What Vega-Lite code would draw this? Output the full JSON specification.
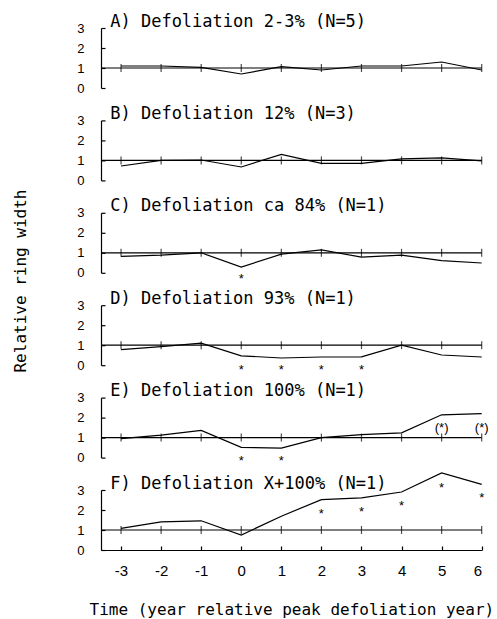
{
  "$schema": "https://vega.github.io/schema/vega-lite/v6.json",
  "padding": {"left": 12, "top": 12, "right": 5, "bottom": 5},
  "bounds": "flush",
  "data": {"values": [
    {"kind": "title", "panel": "A", "label": "A) Defoliation 2-3% (N=5)"},
    {"kind": "title", "panel": "B", "label": "B) Defoliation 12% (N=3)"},
    {"kind": "title", "panel": "C", "label": "C) Defoliation ca 84% (N=1)"},
    {"kind": "title", "panel": "D", "label": "D) Defoliation 93% (N=1)"},
    {"kind": "title", "panel": "E", "label": "E) Defoliation 100% (N=1)"},
    {"kind": "title", "panel": "F", "label": "F) Defoliation X+100% (N=1)"},
    {"kind": "series", "panel": "A", "x": -3, "y": 1.1},
    {"kind": "series", "panel": "A", "x": -2, "y": 1.1},
    {"kind": "series", "panel": "A", "x": -1, "y": 1.03},
    {"kind": "series", "panel": "A", "x": 0, "y": 0.7},
    {"kind": "series", "panel": "A", "x": 1, "y": 1.07},
    {"kind": "series", "panel": "A", "x": 2, "y": 0.9},
    {"kind": "series", "panel": "A", "x": 3, "y": 1.1},
    {"kind": "series", "panel": "A", "x": 4, "y": 1.1},
    {"kind": "series", "panel": "A", "x": 5, "y": 1.3},
    {"kind": "series", "panel": "A", "x": 6, "y": 0.9},
    {"kind": "series", "panel": "B", "x": -3, "y": 0.72},
    {"kind": "series", "panel": "B", "x": -2, "y": 1.0},
    {"kind": "series", "panel": "B", "x": -1, "y": 1.02},
    {"kind": "series", "panel": "B", "x": 0, "y": 0.67},
    {"kind": "series", "panel": "B", "x": 1, "y": 1.3},
    {"kind": "series", "panel": "B", "x": 2, "y": 0.85},
    {"kind": "series", "panel": "B", "x": 3, "y": 0.85},
    {"kind": "series", "panel": "B", "x": 4, "y": 1.08},
    {"kind": "series", "panel": "B", "x": 5, "y": 1.13},
    {"kind": "series", "panel": "B", "x": 6, "y": 0.98},
    {"kind": "series", "panel": "C", "x": -3, "y": 0.82},
    {"kind": "series", "panel": "C", "x": -2, "y": 0.88},
    {"kind": "series", "panel": "C", "x": -1, "y": 1.0},
    {"kind": "series", "panel": "C", "x": 0, "y": 0.29},
    {"kind": "series", "panel": "C", "x": 1, "y": 0.93},
    {"kind": "series", "panel": "C", "x": 2, "y": 1.15},
    {"kind": "series", "panel": "C", "x": 3, "y": 0.78},
    {"kind": "series", "panel": "C", "x": 4, "y": 0.88},
    {"kind": "series", "panel": "C", "x": 5, "y": 0.61},
    {"kind": "series", "panel": "C", "x": 6, "y": 0.49},
    {"kind": "series", "panel": "D", "x": -3, "y": 0.78},
    {"kind": "series", "panel": "D", "x": -2, "y": 0.93},
    {"kind": "series", "panel": "D", "x": -1, "y": 1.1},
    {"kind": "series", "panel": "D", "x": 0, "y": 0.47},
    {"kind": "series", "panel": "D", "x": 1, "y": 0.36},
    {"kind": "series", "panel": "D", "x": 2, "y": 0.41},
    {"kind": "series", "panel": "D", "x": 3, "y": 0.42},
    {"kind": "series", "panel": "D", "x": 4, "y": 1.0},
    {"kind": "series", "panel": "D", "x": 5, "y": 0.51},
    {"kind": "series", "panel": "D", "x": 6, "y": 0.41},
    {"kind": "series", "panel": "E", "x": -3, "y": 0.95},
    {"kind": "series", "panel": "E", "x": -2, "y": 1.12},
    {"kind": "series", "panel": "E", "x": -1, "y": 1.36},
    {"kind": "series", "panel": "E", "x": 0, "y": 0.51},
    {"kind": "series", "panel": "E", "x": 1, "y": 0.47},
    {"kind": "series", "panel": "E", "x": 2, "y": 1.0},
    {"kind": "series", "panel": "E", "x": 3, "y": 1.15},
    {"kind": "series", "panel": "E", "x": 4, "y": 1.24},
    {"kind": "series", "panel": "E", "x": 5, "y": 2.14},
    {"kind": "series", "panel": "E", "x": 6, "y": 2.2},
    {"kind": "series", "panel": "F", "x": -3, "y": 1.08},
    {"kind": "series", "panel": "F", "x": -2, "y": 1.41},
    {"kind": "series", "panel": "F", "x": -1, "y": 1.46},
    {"kind": "series", "panel": "F", "x": 0, "y": 0.75},
    {"kind": "series", "panel": "F", "x": 1, "y": 1.69},
    {"kind": "series", "panel": "F", "x": 2, "y": 2.52},
    {"kind": "series", "panel": "F", "x": 3, "y": 2.61},
    {"kind": "series", "panel": "F", "x": 4, "y": 2.9},
    {"kind": "series", "panel": "F", "x": 5, "y": 3.85},
    {"kind": "series", "panel": "F", "x": 6, "y": 3.28},
    {"kind": "star", "panel": "C", "x": 0, "y": -0.13, "label": "*"},
    {"kind": "star", "panel": "D", "x": 0, "y": -0.05, "label": "*"},
    {"kind": "star", "panel": "D", "x": 1, "y": -0.05, "label": "*"},
    {"kind": "star", "panel": "D", "x": 2, "y": -0.05, "label": "*"},
    {"kind": "star", "panel": "D", "x": 3, "y": -0.05, "label": "*"},
    {"kind": "star", "panel": "E", "x": 0, "y": 0.0, "label": "*"},
    {"kind": "star", "panel": "E", "x": 1, "y": 0.0, "label": "*"},
    {"kind": "star", "panel": "E", "x": 5, "y": 1.65, "label": "(*)"},
    {"kind": "star", "panel": "E", "x": 6, "y": 1.65, "label": "(*)"},
    {"kind": "star", "panel": "F", "x": 2, "y": 1.98, "label": "*"},
    {"kind": "star", "panel": "F", "x": 3, "y": 2.1, "label": "*"},
    {"kind": "star", "panel": "F", "x": 4, "y": 2.37, "label": "*"},
    {"kind": "star", "panel": "F", "x": 5, "y": 3.27, "label": "*"},
    {"kind": "star", "panel": "F", "x": 6, "y": 2.77, "label": "*"}
  ]},
  "facet": {
    "row": {
      "field": "panel",
      "type": "nominal",
      "title": "Relative ring width",
      "header": {
        "labels": false,
        "titleFont": "DejaVu Sans Mono",
        "titleFontSize": 16,
        "titleFontWeight": "normal",
        "titleColor": "black",
        "titlePadding": 37
      }
    }
  },
  "spacing": {"row": 32.4},
  "spec": {
    "width": 380.7,
    "height": 60,
    "layer": [
      {
        "transform": [{"filter": "datum.kind === 'series'"}],
        "mark": {"type": "line", "color": "black", "strokeWidth": 1.2},
        "encoding": {
          "x": {
            "field": "x",
            "type": "quantitative",
            "scale": {"domain": [-3.5, 6], "nice": false, "zero": false},
            "axis": {"title": "Time (year relative peak defoliation year)", "values": [-3, -2, -1, 0, 1, 2, 3, 4, 5, 6], "labelOverlap": false, "labelExpr": "'' + datum.value"}
          },
          "y": {
            "field": "y",
            "type": "quantitative",
            "scale": {"domain": [0, 3], "nice": false},
            "axis": {"title": null, "values": [0, 1, 2, 3], "tickCount": 4, "labelOverlap": false, "labelFlush": false}
          }
        }
      },
      {
        "transform": [{"filter": "datum.kind === 'title'"}],
        "mark": {"type": "rule", "color": "black", "strokeWidth": 1.2},
        "encoding": {
          "y": {"datum": 1, "type": "quantitative", "axis": {"title": null, "values": [0, 1, 2, 3], "tickCount": 4, "labelOverlap": false, "labelFlush": false}}
        }
      },
      {
        "transform": [{"filter": "datum.kind === 'series'"}],
        "mark": {"type": "tick", "orient": "vertical", "color": "black", "size": 8, "thickness": 1.2},
        "encoding": {
          "x": {"field": "x", "type": "quantitative", "axis": {"title": "Time (year relative peak defoliation year)", "values": [-3, -2, -1, 0, 1, 2, 3, 4, 5, 6], "labelOverlap": false, "labelExpr": "'' + datum.value"}},
          "y": {"datum": 1, "type": "quantitative", "axis": {"title": null, "values": [0, 1, 2, 3], "tickCount": 4, "labelOverlap": false, "labelFlush": false}}
        }
      },
      {
        "transform": [{"filter": "datum.kind === 'star'"}],
        "mark": {"type": "text", "color": "black", "font": "Liberation Sans", "fontSize": 13, "baseline": "middle", "dy": 3.5},
        "encoding": {
          "x": {"field": "x", "type": "quantitative", "axis": {"title": "Time (year relative peak defoliation year)", "values": [-3, -2, -1, 0, 1, 2, 3, 4, 5, 6], "labelOverlap": false, "labelExpr": "'' + datum.value"}},
          "y": {"field": "y", "type": "quantitative", "axis": {"title": null, "values": [0, 1, 2, 3], "tickCount": 4, "labelOverlap": false, "labelFlush": false}},
          "text": {"field": "label"}
        }
      },
      {
        "transform": [{"filter": "datum.kind === 'title'"}],
        "mark": {"type": "text", "color": "black", "font": "DejaVu Sans Mono", "fontSize": 17, "align": "left", "baseline": "alphabetic"},
        "encoding": {
          "x": {"datum": -3.27, "type": "quantitative", "axis": {"title": "Time (year relative peak defoliation year)", "values": [-3, -2, -1, 0, 1, 2, 3, 4, 5, 6], "labelOverlap": false, "labelExpr": "'' + datum.value"}},
          "y": {"datum": 3.07, "type": "quantitative", "axis": {"title": null, "values": [0, 1, 2, 3], "tickCount": 4, "labelOverlap": false, "labelFlush": false}},
          "text": {"field": "label"}
        }
      }
    ]
  },
  "config": {
    "view": {"stroke": null},
    "axis": {"domainColor": "black", "tickColor": "black", "labelColor": "black", "titleColor": "black", "domainWidth": 1.2, "tickWidth": 1.2, "grid": false, "tickSize": -4},
    "axisX": {"labelPadding": 17, "labelFont": "Liberation Sans", "labelFontSize": 15, "titleFont": "DejaVu Sans Mono", "titleFontSize": 16, "titleFontWeight": "normal", "titlePadding": 23},
    "axisY": {"labelPadding": 21, "labelFont": "Liberation Sans", "labelFontSize": 13}
  }
}
